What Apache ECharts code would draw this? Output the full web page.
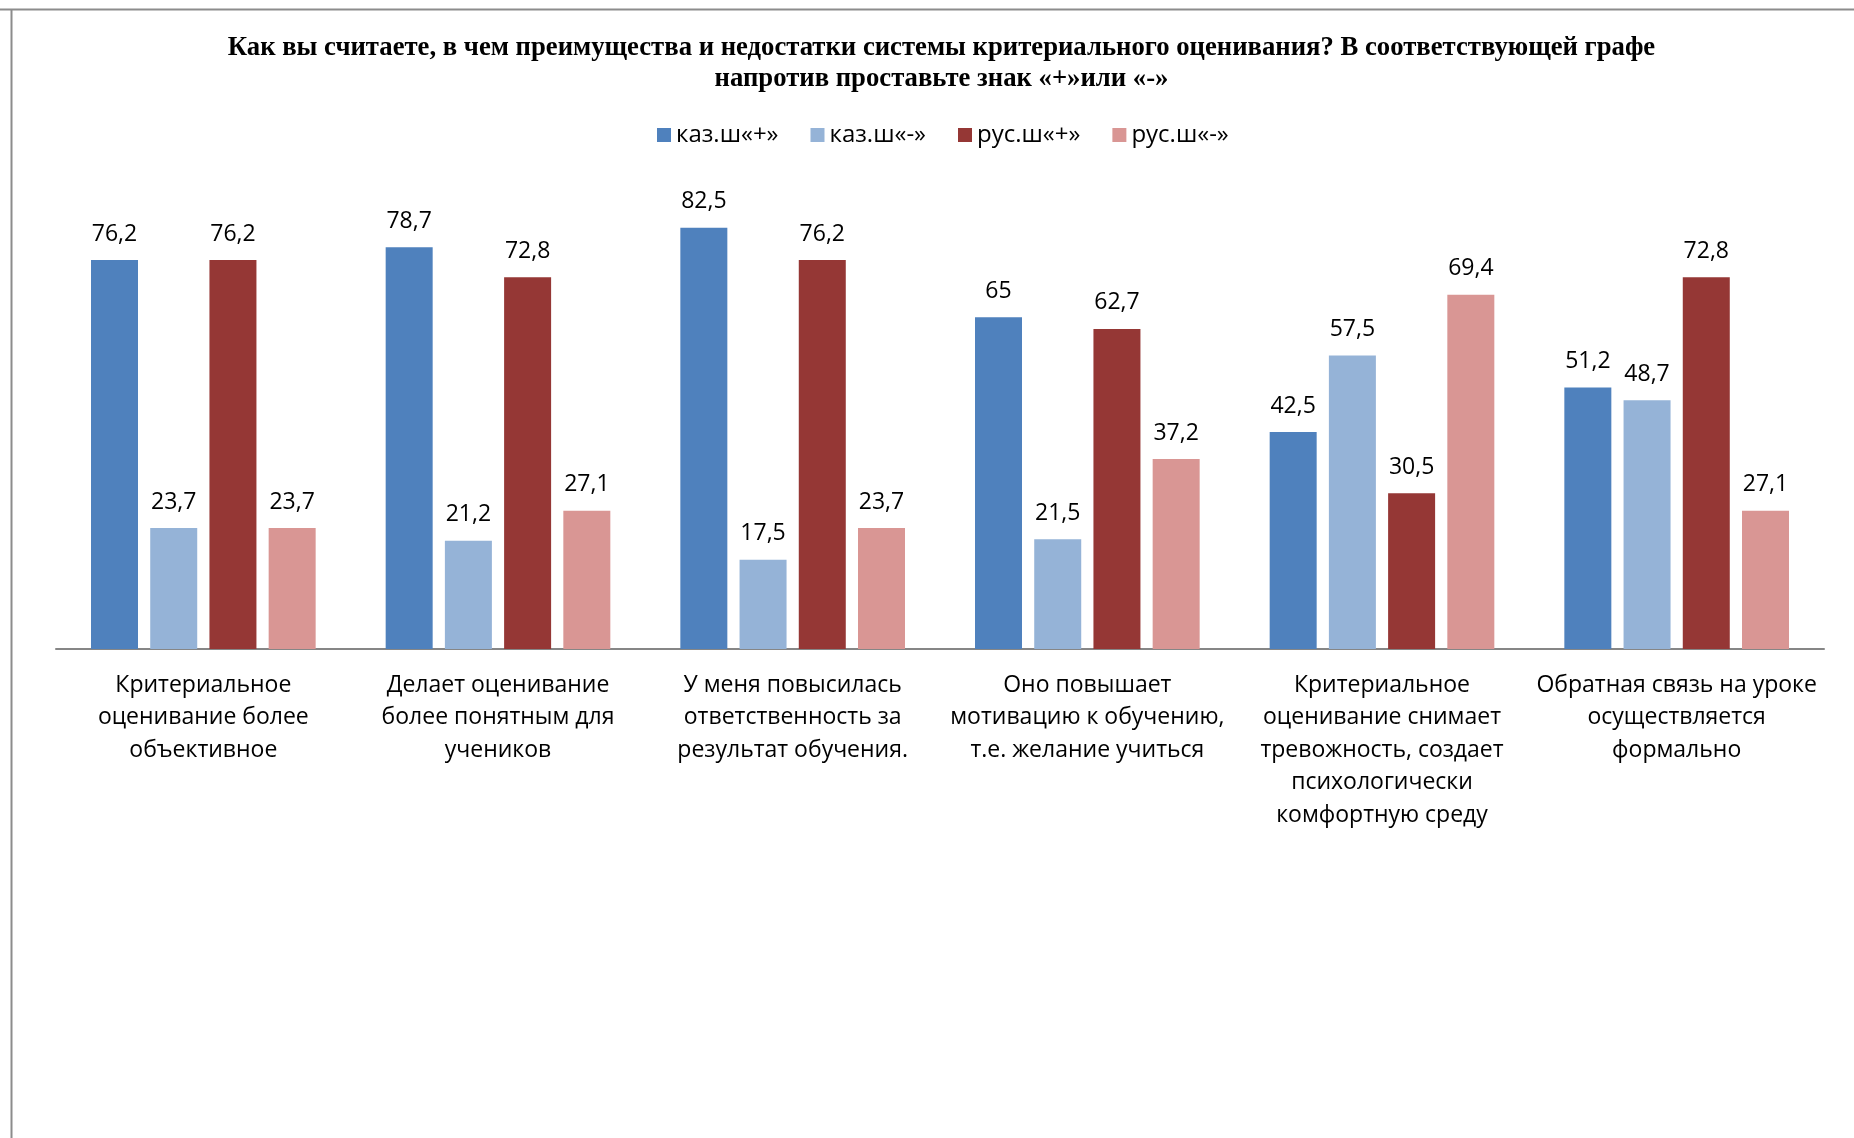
<!DOCTYPE html>
<html><head><meta charset="utf-8">
<script src="https://cdn.jsdelivr.net/npm/echarts@6/dist/echarts.min.js"></script>
<style>html,body{margin:0;padding:0;background:#fff}#c{width:1854px;height:1138px}</style>
</head><body><div id="c"></div>
<script>
const titleText = 'Как вы считаете, в чем преимущества и недостатки системы критериального оценивания? В соответствующей графе\nнапротив проставьте знак «+»или «-»';
const categories = [
  'Критериальное\nоценивание более\nобъективное',
  'Делает оценивание\nболее понятным для\nучеников',
  'У меня повысилась\nответственность за\nрезультат обучения.',
  'Оно повышает\nмотивацию к обучению,\nт.е. желание учиться',
  'Критериальное\nоценивание снимает\nтревожность, создает\nпсихологически\nкомфортную среду',
  'Обратная связь на уроке\nосуществляется\nформально'
];
const seriesNames = ['каз.ш«+»', 'каз.ш«-»', 'рус.ш«+»', 'рус.ш«-»'];
const kazPlus  = [76.2, 78.7, 82.5, 65, 42.5, 51.2];
const kazMinus = [23.7, 21.2, 17.5, 21.5, 57.5, 48.7];
const rusPlus  = [76.2, 72.8, 76.2, 62.7, 30.5, 72.8];
const rusMinus = [23.7, 27.1, 23.7, 37.2, 69.4, 27.1];
const seriesData = [kazPlus, kazMinus, rusPlus, rusMinus];
const colors = ['#4F81BD', '#95B3D7', '#953735', '#D99694'];

const chart = echarts.init(document.getElementById('c'));
const font = '"Open Sans", "DejaVu Sans", sans-serif';
chart.setOption({
  animation: false,
  title: {
    text: titleText, left: 936.5, top: 28, textAlign: 'center',
    textStyle: {fontFamily: '"Liberation Serif", serif', fontWeight: 'bold', fontSize: 26.7, color: '#000', lineHeight: 31}
  },
  legend: {
    data: seriesNames, top: 118, left: 652, itemWidth: 14, itemHeight: 14, itemGap: 32,
    icon: 'rect', textStyle: {fontFamily: font, fontSize: 24, color: '#000'}
  },
  graphic: [
    {type: 'line', shape: {x1: 0, y1: 9.5, x2: 1854, y2: 9.5}, style: {stroke: '#8c8c8c', lineWidth: 2}},
    {type: 'line', shape: {x1: 11.5, y1: 9, x2: 11.5, y2: 1138}, style: {stroke: '#8c8c8c', lineWidth: 2}}
  ],
  grid: {left: 56, right: 30, top: 189.5, bottom: 489, containLabel: false},
  xAxis: {
    type: 'category', data: categories,
    axisLine: {lineStyle: {color: '#868686', width: 2}},
    axisTick: {show: false},
    axisLabel: {fontFamily: font, fontSize: 23, color: '#000', lineHeight: 32.5, margin: 20, interval: 0}
  },
  yAxis: {type: 'value', min: 0, max: 90, show: false, splitLine: {show: false}},
  series: seriesData.map((d, i) => ({
    name: seriesNames[i], type: 'bar', data: d, barWidth: 47, barGap: '26%',
    itemStyle: {color: colors[i]},
    label: {show: true, position: 'top', distance: 14.5, fontFamily: font, fontSize: 23, color: '#000',
      formatter: p => String(p.value).replace('.', ',')}
  }))
});
</script></body></html>
